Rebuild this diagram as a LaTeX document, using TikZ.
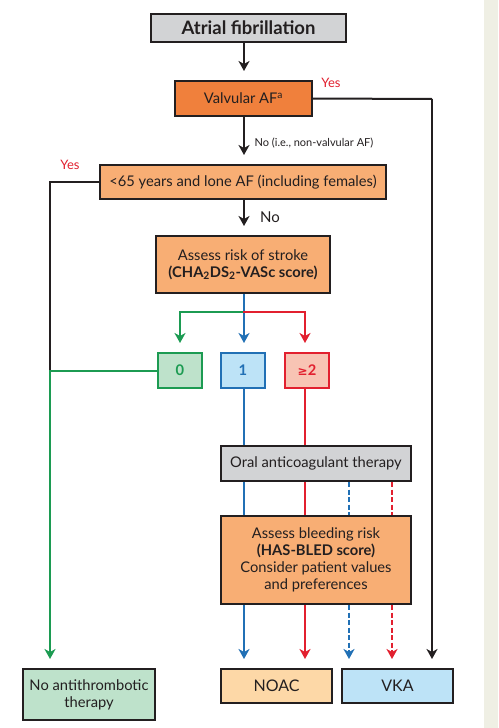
\documentclass[tikz,border=0pt]{standalone}
\usepackage{fontspec}
\setmainfont{Lato}
\newfontfamily\symfont{DejaVu Sans}
\usetikzlibrary{arrows.meta}
\definecolor{ink}{HTML}{231F20}
\definecolor{strip}{HTML}{EFEFE4}
\definecolor{grayfill}{HTML}{D2D3D5}
\definecolor{darkorange}{HTML}{F0803C}
\definecolor{lightorange}{HTML}{F8AE74}
\definecolor{gfill}{HTML}{BEE2CB}
\definecolor{gline}{HTML}{1C9B52}
\definecolor{bfill}{HTML}{BDE3F7}
\definecolor{bline}{HTML}{2170B5}
\definecolor{rfill}{HTML}{F8C4B4}
\definecolor{rline}{HTML}{E2202F}
\definecolor{noacfill}{HTML}{FDD8A7}
\definecolor{yesred}{HTML}{E2202F}
\begin{document}
\begin{tikzpicture}[x=1pt,y=-1pt,
  box/.style={draw=ink, line width=2pt, inner sep=0pt, align=center, text=ink,
    font=\fontsize{14.7}{17}\selectfont},
  conn/.style={line width=2pt, ink},
  arr/.style={conn, -{Stealth[length=10pt,width=11pt,inset=3pt]}, shorten >=9pt},
  lbl/.style={inner sep=0pt, text=ink, font=\fontsize{11}{13}\selectfont},
  yes/.style={inner sep=0pt, text=yesred, font=\fontsize{13}{15}\selectfont}]
\useasboundingbox (0,0) rectangle (498,728);
\fill[white] (0,0) rectangle (498,728);
\fill[strip] (484,0) rectangle (498,728);

% nodes
\node[box, fill=grayfill, minimum width=195pt, minimum height=28pt, font=\fontsize{18.5}{20}\selectfont\bfseries] (af) at (248.5,28) {Atrial fibrillation};
\node[box, fill=darkorange, minimum width=137pt, minimum height=35pt] (valv) at (243.5,98.5) {Valvular AF\textsuperscript{a}};
\node[box, fill=lightorange, minimum width=286pt, minimum height=34pt] (lt) at (243,182) {<65 years and lone AF (including females)};
\node[box, fill=lightorange, minimum width=174pt, minimum height=57pt] (stroke) at (243,264.5) {Assess risk of stroke\\\textbf{(CHA\textsubscript{2}DS\textsubscript{2}-VASc score)}};
\node[box, draw=gline, fill=gfill, text=gline, minimum width=44pt, minimum height=35pt] (s0) at (180,370.5) {\textbf{0}};
\node[box, draw=bline, fill=bfill, text=bline, minimum width=44pt, minimum height=35pt] (s1) at (243,370.5) {\textbf{1}};
\node[box, draw=rline, fill=rfill, text=rline, minimum width=44pt, minimum height=35pt] (s2) at (307,370.5) {\textbf{{\symfont\bfseries\fontsize{12}{14}\selectfont ≥}2}};
\node[box, fill=grayfill, minimum width=190pt, minimum height=35pt] (oat) at (316,463.5) {Oral anticoagulant therapy};
\node[box, fill=lightorange, minimum width=190pt, minimum height=88pt] (bleed) at (316,560) {Assess bleeding risk\\\textbf{(HAS-BLED score)}\\Consider patient values\\and preferences};
\node[box, fill=noacfill, minimum width=111pt, minimum height=34pt, font=\fontsize{16}{18}\selectfont] (noac) at (276.5,686) {NOAC};
\node[box, fill=bfill, minimum width=111pt, minimum height=34pt, font=\fontsize{16}{18}\selectfont] (vka) at (397.5,686) {VKA};
\node[box, fill=gfill, minimum width=132pt, minimum height=51pt] (none) at (89,694.5) {No antithrombotic\\therapy};

% coordinates
\coordinate (sp) at (244,312);
\coordinate (vx) at (432,99);
\coordinate (lx) at (50,182);

% labels
\node[yes] (yes1) at (331,83) {Yes};
\node[lbl] (nolbl) at (314,143) {No (i.e., non-valvular AF)};
\node[yes] (yes2) at (70,165) {Yes};
\node[lbl, font=\fontsize{15}{17}\selectfont] (no2) at (270,217) {No};

% connectors
\draw[arr] (af.south -| 244,0) -- (valv.north -| 244,0);
\draw[arr] (valv.south -| 244,0) -- (lt.north -| 244,0);
\draw[arr] (lt.south -| 244,0) -- (stroke.north -| 244,0);
\draw[conn] (valv.east) -- (vx);
\draw[arr] (vx) -- (vka.north -| vx);
\draw[conn] (lt.west) -- (lx) -- (lx |- s0.west);
\draw[arr, gline] (s0.west) -| (none.north -| lx);

\draw[arr, bline] (stroke.south -| sp) -- (s1.north -| sp);
\draw[arr, gline, shorten <=-1pt] (sp) -| (s0.north);
\draw[arr, rline, shorten <=-1pt] (sp) -| (s2.north -| 305,0);

\draw[conn, bline] (s1.south -| 244,0) -- (oat.north -| 244,0);
\draw[conn, rline] (s2.south -| 305,0) -- (oat.north -| 305,0);

\draw[conn, bline] (oat.south -| 244,0) -- (bleed.north -| 244,0);
\draw[conn, rline] (oat.south -| 305,0) -- (bleed.north -| 305,0);
\draw[conn, bline, dash pattern=on 5pt off 2.5pt] (oat.south -| 349,0) -- (bleed.north -| 349,0);
\draw[conn, rline, dash pattern=on 5pt off 2.5pt] (oat.south -| 392,0) -- (bleed.north -| 392,0);

\draw[arr, bline] (bleed.south -| 244,0) -- (noac.north -| 244,0);
\draw[arr, rline] (bleed.south -| 305,0) -- (noac.north -| 305,0);
\draw[arr, bline, dash pattern=on 5pt off 2.5pt] (bleed.south -| 349,0) -- (vka.north -| 349,0);
\draw[arr, rline, dash pattern=on 5pt off 2.5pt] (bleed.south -| 392,0) -- (vka.north -| 392,0);
\end{tikzpicture}
\end{document}
